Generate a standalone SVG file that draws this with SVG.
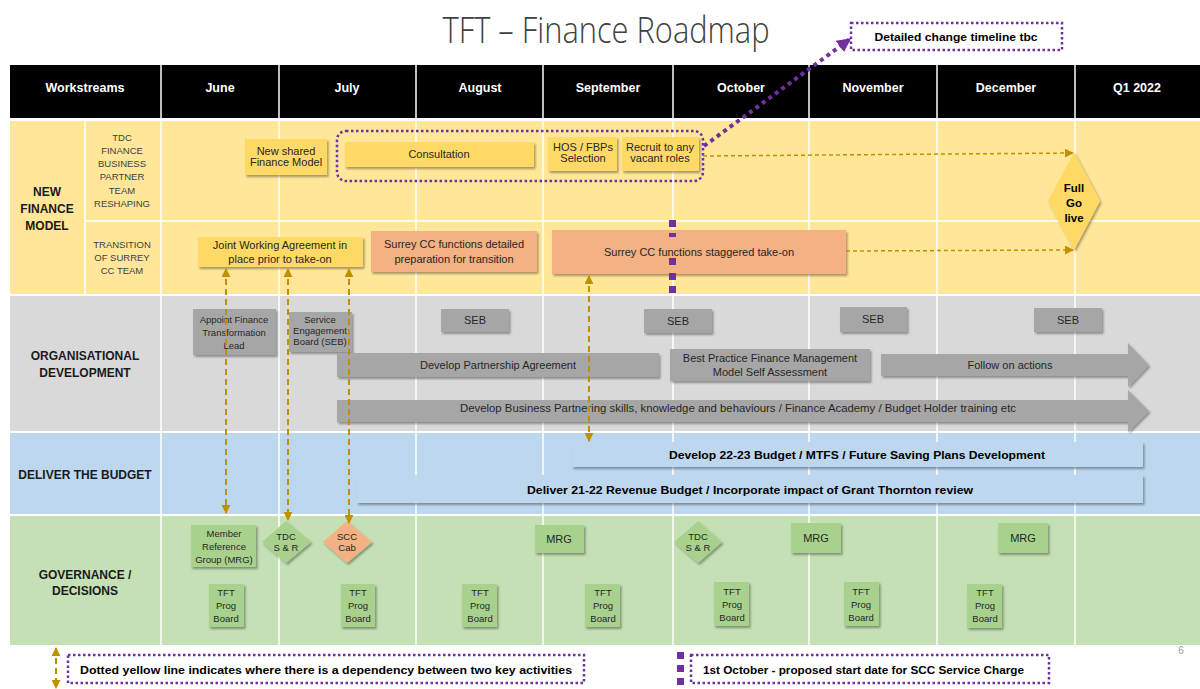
<svg xmlns="http://www.w3.org/2000/svg" width="1200" height="689" viewBox="0 0 1200 689">
<defs>
<style>
text{font-family:"Liberation Sans","DejaVu Sans",sans-serif;}
.hd{fill:#fff;font-weight:bold;font-size:12.5px;text-anchor:middle;}
.lbl{fill:#1a1a1a;font-weight:bold;font-size:12px;text-anchor:middle;}
.sub{fill:#404040;font-size:9.5px;text-anchor:middle;}
.bt{fill:#262626;font-size:11px;text-anchor:middle;}
.bs{fill:#262626;font-size:9.5px;text-anchor:middle;}
.bb{fill:#000;font-weight:bold;font-size:11.5px;text-anchor:middle;}
.lg{fill:#000;font-weight:bold;font-size:11.5px;text-anchor:start;}
.grid{stroke:#fff;stroke-width:1.5;}
.yb{fill:#FFD966;filter:url(#sh);}
.ob{fill:#F4B183;filter:url(#sh);}
.gb{fill:#A6A6A6;filter:url(#sh);}
.bl{fill:#BDD7EE;filter:url(#sh);}
.gr{fill:#A9D18E;filter:url(#sh);}
.dep{stroke:#BF9000;stroke-width:2;stroke-dasharray:6 4;fill:none;}
.deph{stroke:#BF9000;stroke-width:1.5;stroke-dasharray:4 3;fill:none;}
.pbox{fill:none;stroke:#7030A0;stroke-width:2.5;stroke-dasharray:2.5 2.5;}
.psq{fill:#7030A0;}
</style>
<filter id="sh" x="-10%" y="-10%" width="130%" height="140%">
<feDropShadow dx="1.5" dy="2" stdDeviation="1.2" flood-color="#000" flood-opacity="0.35"/>
</filter>
<marker id="ya" viewBox="0 0 10 10" refX="9" refY="5" markerWidth="9" markerHeight="9" markerUnits="userSpaceOnUse" orient="auto-start-reverse">
<path d="M0,0 L10,5 L0,10 z" fill="#BF9000"/>
</marker>
<marker id="pa" viewBox="0 0 10 10" refX="9" refY="5" markerWidth="14" markerHeight="14" markerUnits="userSpaceOnUse" orient="auto">
<path d="M0,0 L10,5 L0,10 z" fill="#7030A0"/>
</marker>
</defs>

<rect x="0" y="0" width="1200" height="689" fill="#fff"/>

<g id="title">
<text x="606" y="43" font-size="36" font-weight="300" fill="#404040" text-anchor="middle" textLength="327" lengthAdjust="spacingAndGlyphs" style="font-family:'Open Sans','Liberation Sans',sans-serif">TFT – Finance Roadmap</text>
</g>

<g id="header">
<rect x="10" y="65" width="1190" height="53" fill="#000"/>
<g class="grid">
<line x1="161" y1="65" x2="161" y2="118"/><line x1="279" y1="65" x2="279" y2="118"/><line x1="416" y1="65" x2="416" y2="118"/><line x1="543" y1="65" x2="543" y2="118"/><line x1="673" y1="65" x2="673" y2="118"/><line x1="809" y1="65" x2="809" y2="118"/><line x1="937" y1="65" x2="937" y2="118"/><line x1="1075" y1="65" x2="1075" y2="118"/>
</g>
<text class="hd" x="85" y="92">Workstreams</text>
<text class="hd" x="220" y="92">June</text>
<text class="hd" x="347" y="92">July</text>
<text class="hd" x="480" y="92">August</text>
<text class="hd" x="608" y="92">September</text>
<text class="hd" x="741" y="92">October</text>
<text class="hd" x="873" y="92">November</text>
<text class="hd" x="1006" y="92">December</text>
<text class="hd" x="1137" y="92">Q1 2022</text>
</g>

<g id="lanes">
<rect x="10" y="121" width="1190" height="173" fill="#FFE699"/>
<rect x="10" y="296" width="1190" height="135" fill="#D9D9D9"/>
<rect x="10" y="433" width="1190" height="81" fill="#BDD7EE"/>
<rect x="10" y="516" width="1190" height="129" fill="#C5E0B4"/>
<g class="grid">
<line x1="85" y1="121" x2="85" y2="294"/>
<line x1="85" y1="221" x2="1200" y2="221"/>
<line x1="161" y1="121" x2="161" y2="645"/><line x1="279" y1="121" x2="279" y2="645"/><line x1="416" y1="121" x2="416" y2="645"/><line x1="543" y1="121" x2="543" y2="645"/><line x1="673" y1="121" x2="673" y2="645"/><line x1="809" y1="121" x2="809" y2="645"/><line x1="937" y1="121" x2="937" y2="645"/><line x1="1075" y1="121" x2="1075" y2="645"/>
</g>
<text class="lbl" x="47" y="196">NEW</text>
<text class="lbl" x="47" y="213">FINANCE</text>
<text class="lbl" x="47" y="230">MODEL</text>
<text class="sub" x="122" y="141">TDC</text>
<text class="sub" x="122" y="154">FINANCE</text>
<text class="sub" x="122" y="167">BUSINESS</text>
<text class="sub" x="122" y="180">PARTNER</text>
<text class="sub" x="122" y="194">TEAM</text>
<text class="sub" x="122" y="207">RESHAPING</text>
<text class="sub" x="122" y="248">TRANSITION</text>
<text class="sub" x="122" y="261">OF SURREY</text>
<text class="sub" x="122" y="274">CC TEAM</text>
<text class="lbl" x="85" y="360">ORGANISATIONAL</text>
<text class="lbl" x="85" y="377">DEVELOPMENT</text>
<text class="lbl" x="85" y="479">DELIVER THE BUDGET</text>
<text class="lbl" x="85" y="579">GOVERNANCE /</text>
<text class="lbl" x="85" y="595">DECISIONS</text>
</g>

<g id="n-new-shared"><rect class="yb" x="245" y="139" width="82" height="36"/><text class="bt" x="286" y="155">New shared</text><text class="bt" x="286" y="166">Finance Model</text></g>
<g id="n-consultation"><rect class="yb" x="345" y="142" width="189" height="25"/><text class="bt" x="439" y="158">Consultation</text></g>
<g id="n-hos"><rect class="yb" x="548" y="137" width="69" height="34"/><text class="bt" x="583" y="151">HOS / FBPs</text><text class="bt" x="583" y="162">Selection</text></g>
<g id="n-recruit"><rect class="yb" x="622" y="137" width="77" height="34"/><text class="bt" x="660" y="151" font-size="10.5">Recruit to any</text><text class="bt" x="660" y="162" font-size="10.5">vacant roles</text></g>
<g id="n-change-group"><rect class="pbox" x="337" y="131" width="366" height="50" rx="9" stroke-width="3"/></g>
<g id="n-detailed"><rect class="pbox" x="851" y="23" width="211" height="27"/><text class="bb" x="956" y="41" font-size="11" textLength="163" lengthAdjust="spacingAndGlyphs">Detailed change timeline tbc</text></g>
<g id="n-go-live"><polygon points="1074,152 1100,201 1074,250 1048,201" fill="#FFD966" filter="url(#sh)"/><text class="bb" x="1074" y="192">Full</text><text class="bb" x="1074" y="207">Go</text><text class="bb" x="1074" y="222">live</text></g>
<g id="n-jwa"><rect class="yb" x="198" y="237" width="165" height="30"/><text class="bt" x="280" y="249" font-size="11.5">Joint Working Agreement in</text><text class="bt" x="280" y="263" font-size="11.5">place prior to take-on</text></g>
<g id="n-prep"><rect class="ob" x="371" y="231" width="166" height="41"/><text class="bt" x="454" y="248" font-size="11.5">Surrey CC functions detailed</text><text class="bt" x="454" y="263" font-size="11.5">preparation for transition</text></g>
<g id="n-staggered"><rect class="ob" x="552" y="230" width="294" height="44"/><text class="bt" x="699" y="256" font-size="12">Surrey CC functions staggered take-on</text></g>

<g id="n-appoint"><rect class="gb" x="193" y="309" width="83" height="46"/><text class="bs" x="234" y="323">Appoint Finance</text><text class="bs" x="234" y="336">Transformation</text><text class="bs" x="234" y="349">Lead</text></g>
<g id="n-seb-board"><rect class="gb" x="289" y="312" width="63" height="40"/><text class="bs" x="320" y="323" font-size="9">Service</text><text class="bs" x="320" y="334" font-size="9">Engagement</text><text class="bs" x="320" y="345" font-size="9">Board (SEB)</text></g>
<g id="n-seb1"><rect class="gb" x="441" y="309" width="68" height="23"/><text class="bt" x="475" y="324">SEB</text></g>
<g id="n-seb2"><rect class="gb" x="644" y="309" width="68" height="24"/><text class="bt" x="678" y="325">SEB</text></g>
<g id="n-seb3"><rect class="gb" x="840" y="307" width="67" height="25"/><text class="bt" x="873" y="323">SEB</text></g>
<g id="n-seb4"><rect class="gb" x="1034" y="308" width="68" height="24"/><text class="bt" x="1068" y="324">SEB</text></g>
<g id="n-partnership"><rect class="gb" x="337" y="353" width="322" height="24"/><text class="bt" x="498" y="369">Develop Partnership Agreement</text></g>
<g id="n-best-practice"><rect class="gb" x="670" y="349" width="200" height="32"/><text class="bt" x="770" y="362">Best Practice Finance Management</text><text class="bt" x="770" y="376">Model Self Assessment</text></g>
<g id="n-follow-on"><polygon class="gb" points="881,354 1128,354 1128,343 1149,365 1128,387 1128,376 881,376"/><text class="bt" x="1010" y="369">Follow on actions</text></g>
<g id="n-bp-skills"><polygon class="gb" points="337,400 1128,400 1128,390 1149,411 1128,432 1128,422 337,422"/><text class="bt" x="738" y="412" textLength="556" lengthAdjust="spacingAndGlyphs">Develop Business Partnering skills, knowledge and behaviours / Finance Academy / Budget Holder training etc</text></g>

<g id="n-budget-2223"><rect class="bl" x="572" y="442" width="571" height="25"/><text class="bb" x="857" y="459" textLength="376" lengthAdjust="spacingAndGlyphs">Develop 22-23 Budget / MTFS / Future Saving Plans Development</text></g>
<g id="n-budget-2122"><rect class="bl" x="357" y="475" width="786" height="28"/><text class="bb" x="750" y="494" textLength="446" lengthAdjust="spacingAndGlyphs">Deliver 21-22 Revenue Budget / Incorporate impact of Grant Thornton review</text></g>

<g id="n-mrg-june"><rect class="gr" x="191" y="525" width="65" height="42"/><text class="bs" x="224" y="537">Member</text><text class="bs" x="224" y="550">Reference</text><text class="bs" x="224" y="563">Group (MRG)</text></g>
<g id="n-tdc-july"><polygon points="286,521 311,542 286,563 262,542" fill="#A9D18E" filter="url(#sh)"/><text class="bs" x="286" y="540">TDC</text><text class="bs" x="286" y="551">S &amp; R</text></g>
<g id="n-scc-cab"><polygon points="347,521 372,542 347,563 323,542" fill="#F4B183" filter="url(#sh)"/><text class="bs" x="347" y="540">SCC</text><text class="bs" x="347" y="551">Cab</text></g>
<g id="n-mrg-sep"><rect class="gr" x="535" y="525" width="49" height="28"/><text class="bt" x="559" y="543" font-size="12">MRG</text></g>
<g id="n-tdc-oct"><polygon points="698,521 722,542 698,563 674,542" fill="#A9D18E" filter="url(#sh)"/><text class="bs" x="698" y="540">TDC</text><text class="bs" x="698" y="551">S &amp; R</text></g>
<g id="n-mrg-oct"><rect class="gr" x="791" y="523" width="50" height="30"/><text class="bt" x="816" y="542" font-size="12">MRG</text></g>
<g id="n-mrg-dec"><rect class="gr" x="998" y="523" width="50" height="30"/><text class="bt" x="1023" y="542" font-size="12">MRG</text></g>
<g id="n-tft1"><rect class="gr" x="209" y="584" width="35" height="43"/><text class="bs" x="226" y="596">TFT</text><text class="bs" x="226" y="609">Prog</text><text class="bs" x="226" y="622">Board</text></g>
<g id="n-tft2"><rect class="gr" x="341" y="584" width="34" height="43"/><text class="bs" x="358" y="596">TFT</text><text class="bs" x="358" y="609">Prog</text><text class="bs" x="358" y="622">Board</text></g>
<g id="n-tft3"><rect class="gr" x="462" y="584" width="35" height="43"/><text class="bs" x="480" y="596">TFT</text><text class="bs" x="480" y="609">Prog</text><text class="bs" x="480" y="622">Board</text></g>
<g id="n-tft4"><rect class="gr" x="585" y="584" width="35" height="43"/><text class="bs" x="603" y="596">TFT</text><text class="bs" x="603" y="609">Prog</text><text class="bs" x="603" y="622">Board</text></g>
<g id="n-tft5"><rect class="gr" x="714" y="582" width="35" height="44"/><text class="bs" x="732" y="595">TFT</text><text class="bs" x="732" y="608">Prog</text><text class="bs" x="732" y="621">Board</text></g>
<g id="n-tft6"><rect class="gr" x="844" y="582" width="35" height="44"/><text class="bs" x="861" y="595">TFT</text><text class="bs" x="861" y="608">Prog</text><text class="bs" x="861" y="621">Board</text></g>
<g id="n-tft7"><rect class="gr" x="967" y="584" width="35" height="44"/><text class="bs" x="985" y="596">TFT</text><text class="bs" x="985" y="609">Prog</text><text class="bs" x="985" y="622">Board</text></g>

<g id="connectors">
<line class="dep" x1="226" y1="269" x2="226" y2="513" marker-start="url(#ya)" marker-end="url(#ya)"/>
<line class="dep" x1="288" y1="269" x2="288" y2="520" marker-start="url(#ya)" marker-end="url(#ya)"/>
<line class="dep" x1="349" y1="269" x2="349" y2="523" marker-start="url(#ya)" marker-end="url(#ya)"/>
<line class="dep" x1="589" y1="276" x2="589" y2="441" marker-start="url(#ya)" marker-end="url(#ya)"/>
<line class="deph" x1="703" y1="156" x2="1073" y2="153" marker-end="url(#ya)"/>
<line class="deph" x1="846" y1="251" x2="1073" y2="250" marker-end="url(#ya)"/>
<g id="oct-1-marker">
<rect class="psq" x="669" y="220" width="7" height="7"/>
<rect class="psq" x="669" y="233" width="7" height="4"/>
<rect class="psq" x="669" y="258" width="7" height="7"/>
<rect class="psq" x="669" y="273" width="7" height="7"/>
<rect class="psq" x="669" y="286" width="7" height="7"/>
</g>
<line x1="704" y1="146" x2="850" y2="39" stroke="#7030A0" stroke-width="4" stroke-dasharray="4 4" marker-end="url(#pa)"/>
</g>

<g id="legend">
<line class="dep" x1="56" y1="648" x2="56" y2="688" marker-start="url(#ya)" marker-end="url(#ya)"/>
<rect class="pbox" x="68" y="655" width="516" height="28"/>
<text class="lg" x="80" y="674" textLength="492" lengthAdjust="spacingAndGlyphs">Dotted yellow line indicates where there is a dependency between two key activities</text>
<rect class="psq" x="677" y="652" width="7" height="7"/>
<rect class="psq" x="677" y="665" width="7" height="7"/>
<rect class="psq" x="677" y="678" width="7" height="7"/>
<rect class="pbox" x="691" y="655" width="358" height="28"/>
<text class="lg" x="703" y="674" textLength="321" lengthAdjust="spacingAndGlyphs">1st October - proposed start date for SCC Service Charge</text>
<text x="1181" y="654" font-size="10" fill="#999" text-anchor="middle">6</text>
</g>
</svg>
